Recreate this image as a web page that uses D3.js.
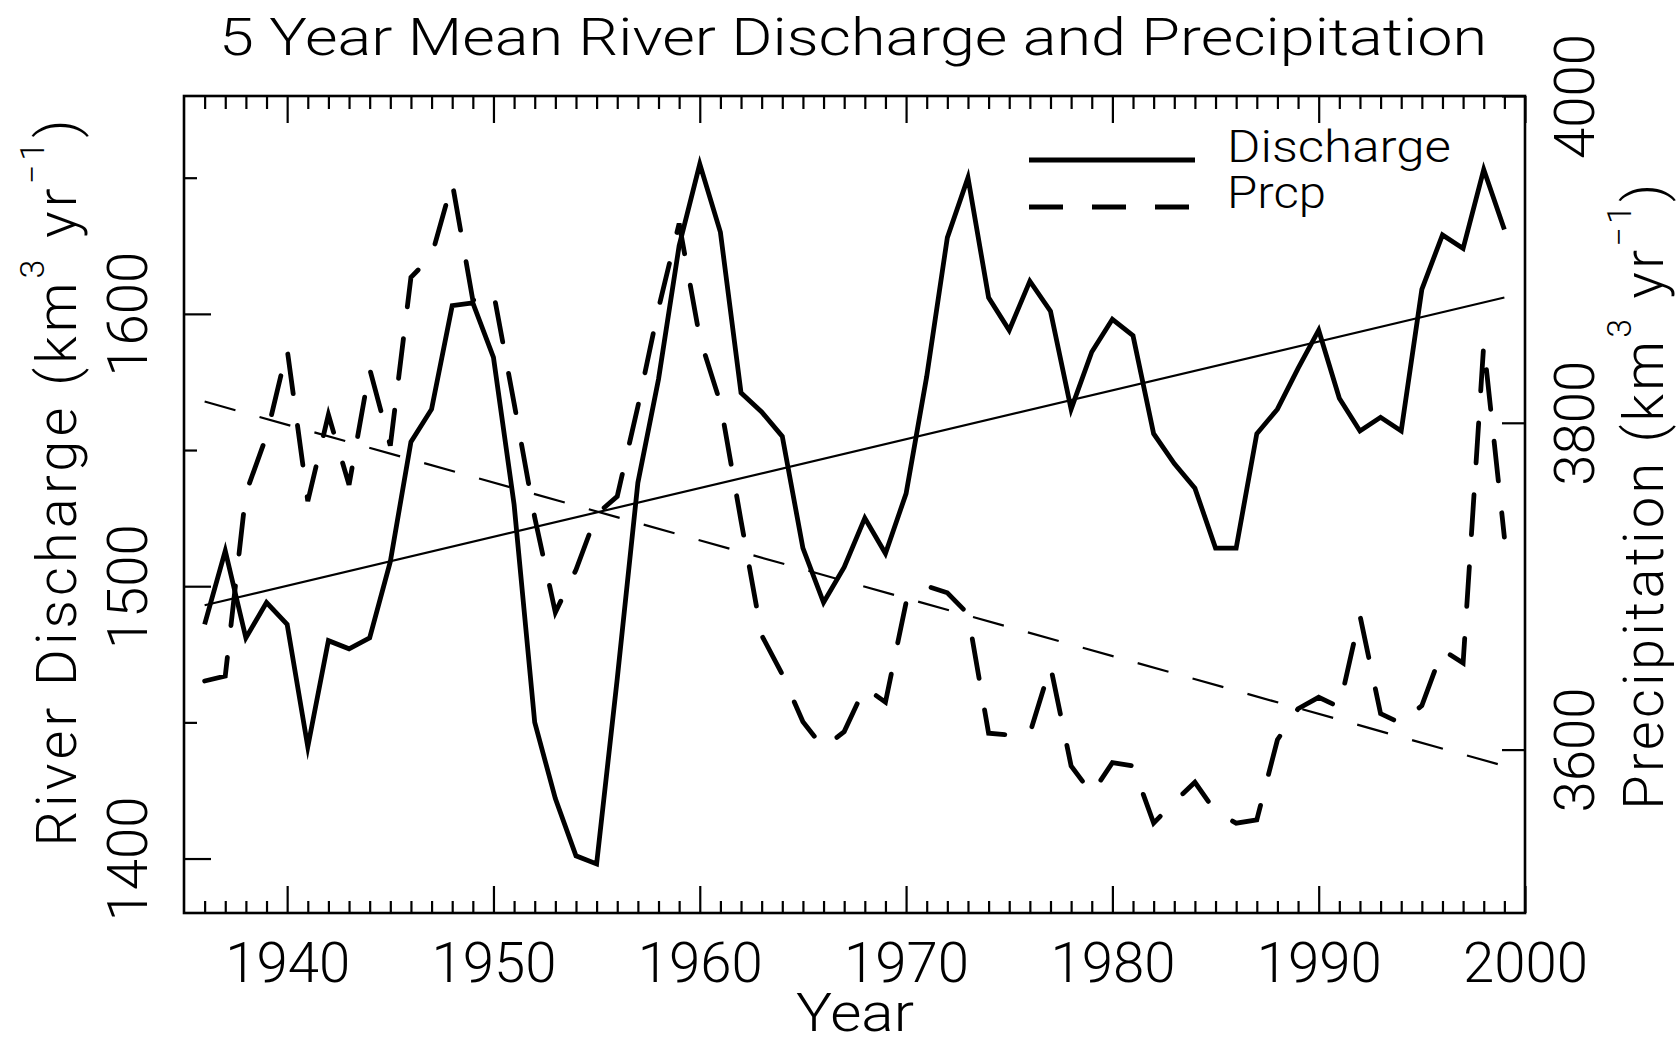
<!DOCTYPE html>
<html>
<head>
<meta charset="utf-8">
<script src="https://cdn.jsdelivr.net/npm/d3@7"></script>
<style>
  html, body { margin: 0; padding: 0; background: #fff; }
  svg { display: block; }
  text { font-family: Roboto, "DejaVu Sans", sans-serif; font-weight: 300; fill: #000; }
</style>
</head>
<body>
<svg id="chart" width="1677" height="1037"></svg>
<script>
// Years of the 5-year running means
const years = [1936, 1937, 1938, 1939, 1940, 1941, 1942, 1943, 1944, 1945,
               1946, 1947, 1948, 1949, 1950, 1951, 1952, 1953, 1954, 1955,
               1956, 1957, 1958, 1959, 1960, 1961, 1962, 1963, 1964, 1965,
               1966, 1967, 1968, 1969, 1970, 1971, 1972, 1973, 1974, 1975,
               1976, 1977, 1978, 1979, 1980, 1981, 1982, 1983, 1984, 1985,
               1986, 1987, 1988, 1989, 1990, 1991, 1992, 1993, 1994, 1995,
               1996, 1997, 1998, 1999];

// River discharge, km^3/yr (left axis)
const discharge = [1486, 1513, 1481, 1494, 1486, 1441, 1480, 1477, 1481, 1509,
                   1553, 1565, 1603, 1604, 1584, 1530, 1450, 1422, 1401, 1398,
                   1466, 1538, 1576, 1625, 1655, 1630, 1571, 1564, 1555, 1514,
                   1494, 1507, 1525, 1512, 1534, 1577, 1628, 1650, 1606, 1594,
                   1612, 1601, 1565, 1586, 1598, 1592, 1556, 1545, 1536, 1514,
                   1514, 1556, 1565, 1580, 1594, 1569, 1557, 1562, 1557, 1609,
                   1629, 1624, 1653, 1631];

// Precipitation, km^3/yr (right axis)
const precip = [3642, 3645, 3757, 3792, 3845, 3752, 3805, 3762, 3833, 3786,
                3889, 3902, 3947, 3875, 3880, 3812, 3742, 3684, 3710, 3744,
                3755, 3810, 3870, 3922, 3852, 3812, 3740, 3670, 3646, 3617,
                3601, 3611, 3638, 3629, 3690, 3700, 3696, 3683, 3610, 3609,
                3610, 3651, 3590, 3573, 3592, 3590, 3555, 3568, 3580, 3562,
                3555, 3557, 3606, 3625, 3632, 3626, 3682, 3622, 3616, 3627,
                3661, 3653, 3848, 3730];

// Linear trends (end points)
const trendYears = [1936, 1999];
const dischargeTrend = [1493, 1606];
const precipTrend = [3813, 3590];

// Tick values
const xMajorTicks = [1940, 1950, 1960, 1970, 1980, 1990, 2000];
const xMinorTicks = years.filter(y => !xMajorTicks.includes(y));
const leftMajorTicks = [1400, 1500, 1600];
const leftMinorTicks = [1450, 1550, 1650];
const rightTicks = [3600, 3800, 4000];

const svg = d3.select("#chart");
const W = 1677, H = 1037;
svg.append("rect").attr("width", W).attr("height", H).attr("fill", "#fff");

const plot = { left: 184, right: 1525, top: 96, bottom: 913 };

const x = d3.scaleLinear().domain([1935, 2000]).range([plot.left, plot.right]);
const yL = d3.scaleLinear().domain([1380, 1680]).range([plot.bottom, plot.top]);
const yR = d3.scaleLinear().domain([3500, 4000]).range([plot.bottom, plot.top]);

const tickStroke = 2.2;
function styleAxis(g) {
  g.select(".domain").remove();
  g.selectAll(".tick line").attr("stroke", "#000").attr("stroke-width", tickStroke);
}
function styleLabels(g, transform, anchorY) {
  g.selectAll(".tick text")
    .attr("x", null).attr("dy", null)
    .attr("font-size", 56).attr("font-family", null).attr("text-anchor", "middle")
    .attr("textLength", 125).attr("lengthAdjust", "spacingAndGlyphs");
  if (transform) g.selectAll(".tick text").attr("transform", transform);
  if (anchorY !== undefined) g.selectAll(".tick text").attr("y", anchorY);
}

// Bottom axis: minor and major ticks, pointing inward
svg.append("g").attr("transform", `translate(0,${plot.bottom})`)
  .call(d3.axisBottom(x).tickValues(xMinorTicks).tickSizeInner(-12).tickSizeOuter(0).tickFormat(""))
  .call(styleAxis);
const bx = svg.append("g").attr("transform", `translate(0,${plot.bottom})`)
  .call(d3.axisBottom(x).tickValues(xMajorTicks).tickSizeInner(-27).tickSizeOuter(0).tickFormat(d3.format("d")))
  .call(styleAxis);
styleLabels(bx, null, 69);

// Top axis: mirrored ticks, no labels
svg.append("g").attr("transform", `translate(0,${plot.top})`)
  .call(d3.axisTop(x).tickValues(xMinorTicks).tickSizeInner(-13).tickSizeOuter(0).tickFormat(""))
  .call(styleAxis);
svg.append("g").attr("transform", `translate(0,${plot.top})`)
  .call(d3.axisTop(x).tickValues(xMajorTicks).tickSizeInner(-27).tickSizeOuter(0).tickFormat(""))
  .call(styleAxis);

// Left axis
svg.append("g").attr("transform", `translate(${plot.left},0)`)
  .call(d3.axisLeft(yL).tickValues(leftMinorTicks).tickSizeInner(-13).tickSizeOuter(0).tickFormat(""))
  .call(styleAxis);
const ly = svg.append("g").attr("transform", `translate(${plot.left},0)`)
  .call(d3.axisLeft(yL).tickValues(leftMajorTicks).tickSizeInner(-27).tickSizeOuter(0).tickFormat(d3.format("d")))
  .call(styleAxis);
styleLabels(ly, "translate(-37,0) rotate(-90)");

// Right axis
const ry = svg.append("g").attr("transform", `translate(${plot.right},0)`)
  .call(d3.axisRight(yR).tickValues(rightTicks).tickSizeInner(-23).tickSizeOuter(0).tickFormat(d3.format("d")))
  .call(styleAxis);
styleLabels(ry, "translate(69,0) rotate(-90)");

// Plot frame
svg.append("rect")
  .attr("x", plot.left).attr("y", plot.top)
  .attr("width", plot.right - plot.left).attr("height", plot.bottom - plot.top)
  .attr("fill", "none").attr("stroke", "#000").attr("stroke-width", 2.6);

// Series
const dischargeData = years.map((yr, i) => ({ year: yr, v: discharge[i] }));
const precipData = years.map((yr, i) => ({ year: yr, v: precip[i] }));
const dTrendData = trendYears.map((yr, i) => ({ year: yr, v: dischargeTrend[i] }));
const pTrendData = trendYears.map((yr, i) => ({ year: yr, v: precipTrend[i] }));

const lineL = d3.line().x(d => x(d.year)).y(d => yL(d.v));
const lineR = d3.line().x(d => x(d.year)).y(d => yR(d.v));

svg.append("path").datum(dTrendData).attr("d", lineL)
  .attr("fill", "none").attr("stroke", "#000").attr("stroke-width", 2.2);
svg.append("path").datum(pTrendData).attr("d", lineR)
  .attr("fill", "none").attr("stroke", "#000").attr("stroke-width", 2.2)
  .attr("stroke-dasharray", "32,25");

svg.append("path").datum(dischargeData).attr("d", lineL)
  .attr("fill", "none").attr("stroke", "#000").attr("stroke-width", 4.8)
  .attr("stroke-linejoin", "miter").attr("stroke-miterlimit", 10);
svg.append("path").datum(precipData).attr("d", lineR)
  .attr("fill", "none").attr("stroke", "#000").attr("stroke-width", 4.8)
  .attr("stroke-dasharray", "40,32").attr("stroke-linecap", "round");

// Legend
const legend = svg.append("g");
legend.append("line").attr("x1", 1029).attr("x2", 1195).attr("y1", 160).attr("y2", 160)
  .attr("stroke", "#000").attr("stroke-width", 4.8);
legend.append("line").attr("x1", 1029).attr("x2", 1195).attr("y1", 207).attr("y2", 207)
  .attr("stroke", "#000").attr("stroke-width", 4.8).attr("stroke-dasharray", "34,29");
legend.append("text").attr("x", 1227).attr("y", 162).attr("font-size", 44)
  .attr("textLength", 224).attr("lengthAdjust", "spacingAndGlyphs").text("Discharge");
legend.append("text").attr("x", 1227).attr("y", 208).attr("font-size", 44)
  .attr("textLength", 99).attr("lengthAdjust", "spacingAndGlyphs").text("Prcp");

// Title and x-axis title
svg.append("text").attr("x", 853).attr("y", 55).attr("text-anchor", "middle")
  .attr("font-size", 52).attr("textLength", 1268).attr("lengthAdjust", "spacingAndGlyphs")
  .text("5 Year Mean River Discharge and Precipitation");

svg.append("text").attr("x", 855).attr("y", 1031).attr("text-anchor", "middle")
  .attr("font-size", 53).attr("textLength", 118).attr("lengthAdjust", "spacingAndGlyphs")
  .text("Year");

// Rotated y-axis titles with superscript units, spread to a given length
function axisTitle(baselineX, centerY, main, targetLength) {
  const t = svg.append("text")
    .attr("transform", `translate(${baselineX},${centerY}) rotate(-90)`)
    .attr("text-anchor", "middle").attr("font-size", 56);
  const parts = [
    { s: main + " (km", size: 56, dy: 0 },
    { s: "3", size: 34, dy: -32 },
    { s: " yr", size: 56, dy: 32 },
    { s: "\u22121", size: 34, dy: -32 },
    { s: ")", size: 56, dy: 32 }
  ];
  parts.forEach(p => t.append("tspan").attr("font-size", p.size).attr("dy", p.dy).text(p.s));
  const natural = t.node().getComputedTextLength();
  const nChars = parts.reduce((n, p) => n + p.s.length, 0);
  const spacing = (targetLength - natural) / (nChars - 1);
  t.attr("letter-spacing", spacing);
  return t;
}
axisTitle(76, 481, "River Discharge", 727);
axisTitle(1663, 495, "Precipitation", 626);
</script>
</body>
</html>
